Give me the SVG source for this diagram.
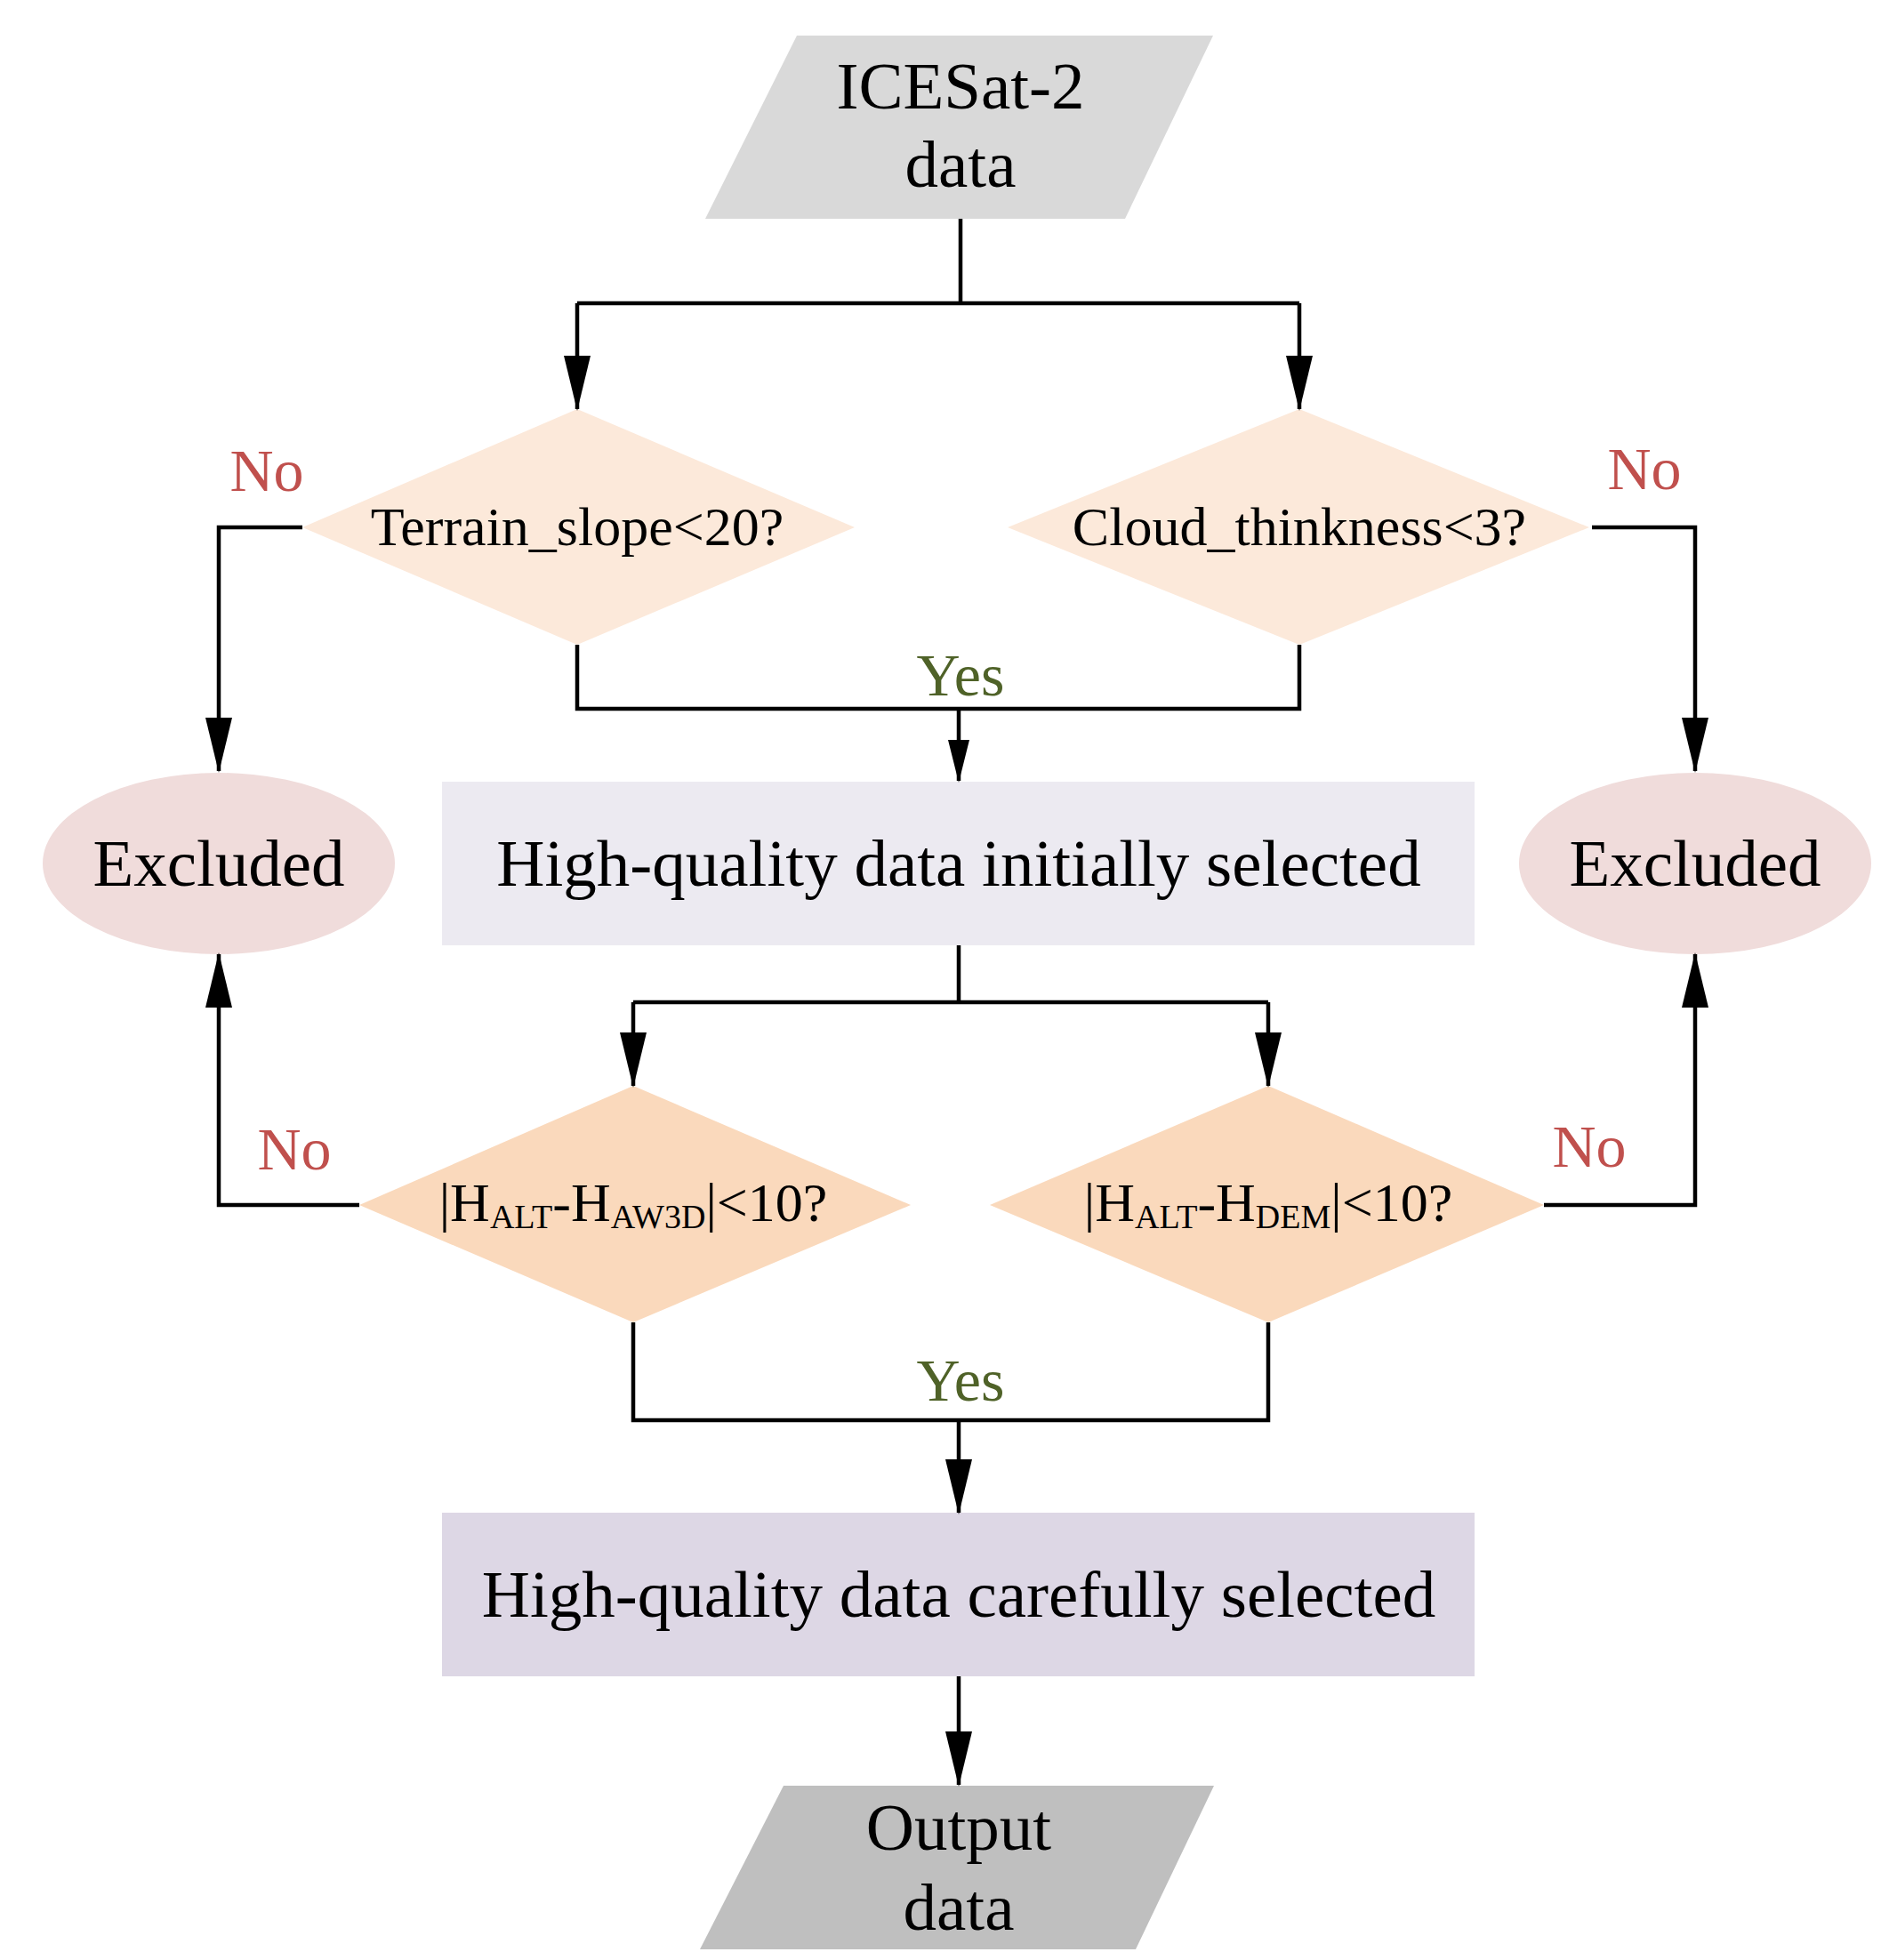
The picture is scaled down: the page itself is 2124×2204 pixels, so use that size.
<svg xmlns="http://www.w3.org/2000/svg" width="2124" height="2204" viewBox="0 0 2124 2204">
<style>
text{font-family:"Liberation Serif","Times New Roman",serif;text-anchor:middle;fill:#000}
.big{font-size:75px}.mid{font-size:62px}.no{font-size:68px;fill:#C0504D}.yes{font-size:68px;fill:#4F6228}
.ln{fill:none;stroke:#000;stroke-width:4.5}
</style>
<defs>
<marker id="a" markerUnits="userSpaceOnUse" markerWidth="62" markerHeight="30" refX="60" refY="15" orient="auto" viewBox="0 0 62 30"><path d="M0,0 L62,15 L0,30 Z" fill="#000"/></marker>
<marker id="s" markerUnits="userSpaceOnUse" markerWidth="48" markerHeight="24" refX="46" refY="12" orient="auto" viewBox="0 0 48 24"><path d="M0,0 L48,12 L0,24 Z" fill="#000"/></marker>
</defs>
<g id="start"><polygon points="896,40 1364,40 1265,246 793,246" fill="#D9D9D9"/><text class="big" x="1080" y="122">ICESat-2</text><text class="big" x="1080" y="210">data</text></g>
<g id="d1"><polygon points="649,460 961,593 649,725 340,593" fill="#FCE9DA"/><text class="mid" x="649" y="613">Terrain_slope&lt;20?</text></g>
<g id="d2"><polygon points="1461,460 1787,593 1461,725 1133,593" fill="#FCE9DA"/><text class="mid" x="1461" y="613">Cloud_thinkness&lt;3?</text></g>
<g id="ex1"><ellipse cx="246" cy="971" rx="198" ry="102" fill="#F0DCDB"/><text class="big" x="246" y="996">Excluded</text></g>
<g id="ex2"><ellipse cx="1906" cy="971" rx="198" ry="102" fill="#F0DCDB"/><text class="big" x="1906" y="996">Excluded</text></g>
<g id="b1"><rect x="497" y="879" width="1161" height="184" fill="#ECEAF1"/><text class="big" x="1078" y="996">High-quality data initially selected</text></g>
<g id="d3"><polygon points="712,1221 1024,1355 712,1487 404,1355" fill="#FAD9BC"/><text class="mid" x="712" y="1373">|H<tspan font-size="38" dy="8">ALT</tspan><tspan dy="-8">-H</tspan><tspan font-size="38" dy="8">AW3D</tspan><tspan dy="-8">|&lt;10?</tspan></text></g>
<g id="d4"><polygon points="1426,1221 1736,1355 1426,1487 1113,1355" fill="#FAD9BC"/><text class="mid" x="1426" y="1373">|H<tspan font-size="38" dy="8">ALT</tspan><tspan dy="-8">-H</tspan><tspan font-size="38" dy="8">DEM</tspan><tspan dy="-8">|&lt;10?</tspan></text></g>
<g id="b2"><rect x="497" y="1701" width="1161" height="184" fill="#DDD7E5"/><text class="big" x="1078" y="1818">High-quality data carefully selected</text></g>
<g id="end"><polygon points="881,2008 1365,2008 1277,2192 787,2192" fill="#BFBFBF"/><text class="big" x="1078" y="2080">Output</text><text class="big" x="1078" y="2170">data</text></g>
<g id="connectors">
<path class="ln" d="M1080,246 V341 M649,341 H1461"/>
<path class="ln" d="M649,341 V460" marker-end="url(#a)"/>
<path class="ln" d="M1461,341 V460" marker-end="url(#a)"/>
<path class="ln" d="M340,593 H246 V867" marker-end="url(#a)"/>
<path class="ln" d="M1790,593 H1906 V867" marker-end="url(#a)"/>
<path class="ln" d="M649,725 V797 H1461 V725"/>
<path class="ln" d="M1078,797 V878" marker-end="url(#s)"/>
<path class="ln" d="M1078,1063 V1127 M712,1127 H1426"/>
<path class="ln" d="M712,1127 V1221" marker-end="url(#a)"/>
<path class="ln" d="M1426,1127 V1221" marker-end="url(#a)"/>
<path class="ln" d="M404,1355 H246 V1073" marker-end="url(#a)"/>
<path class="ln" d="M1736,1355 H1906 V1073" marker-end="url(#a)"/>
<path class="ln" d="M712,1487 V1597 H1426 V1487"/>
<path class="ln" d="M1078,1597 V1701" marker-end="url(#a)"/>
<path class="ln" d="M1078,1885 V2007" marker-end="url(#a)"/>
<text class="no" x="300" y="552">No</text>
<text class="no" x="1849" y="550">No</text>
<text class="yes" x="1080" y="782">Yes</text>
<text class="no" x="331" y="1315">No</text>
<text class="no" x="1787" y="1312">No</text>
<text class="yes" x="1080" y="1575">Yes</text>
</g>
</svg>
